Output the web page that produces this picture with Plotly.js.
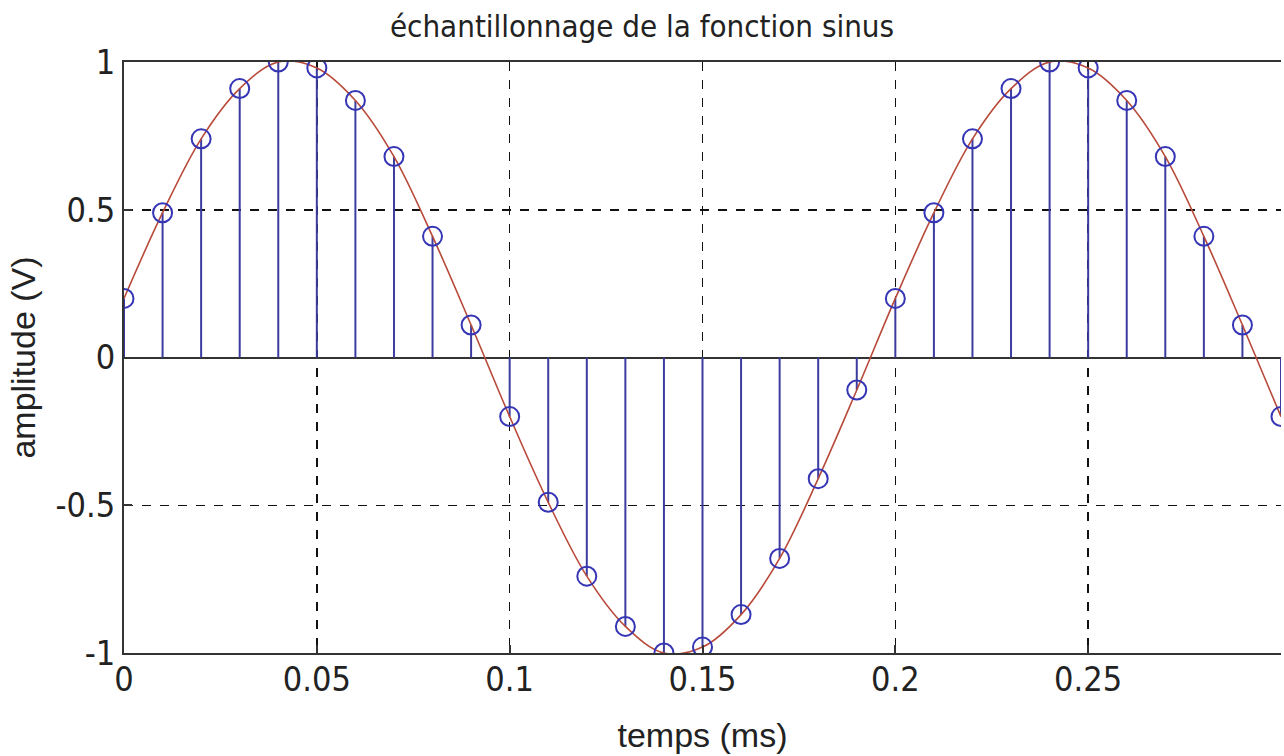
<!DOCTYPE html>
<html>
<head>
<meta charset="utf-8">
<script src="https://cdn.plot.ly/plotly-3.0.1.min.js"></script>
<style>html,body{margin:0;padding:0;background:#fff;}#chart{width:1284px;height:756px;}</style>
</head>
<body>
<div id="chart"></div>
<script>
const temps = [0, 0.01, 0.02, 0.03, 0.04, 0.05, 0.06, 0.07, 0.08, 0.09,
               0.10, 0.11, 0.12, 0.13, 0.14, 0.15, 0.16, 0.17, 0.18, 0.19,
               0.20, 0.21, 0.22, 0.23, 0.24, 0.25, 0.26, 0.27, 0.28, 0.29, 0.30];
const amplitude = [0.20, 0.49, 0.74, 0.91, 1.00, 0.98, 0.87, 0.68, 0.41, 0.11,
                   -0.20, -0.49, -0.74, -0.91, -1.00, -0.98, -0.87, -0.68, -0.41, -0.11,
                   0.20, 0.49, 0.74, 0.91, 1.00, 0.98, 0.87, 0.68, 0.41, 0.11, -0.20];
const xTicks = [0, 0.05, 0.1, 0.15, 0.2, 0.25, 0.3];
const xTickLabels = ['0', '0.05', '0.1', '0.15', '0.2', '0.25', ''];
const yTicks = [-1, -0.5, 0, 0.5, 1];
const yTickLabels = ['-1', '-0.5', '0', '0.5', '1'];

const stemX = [], stemY = [];
temps.forEach((t, i) => { stemX.push(t, t, null); stemY.push(0, amplitude[i], null); });

const font = {family: 'Liberation Sans, Arial, sans-serif', color: '#222'};
const narrow = {family: 'Liberation Sans Narrow, DejaVu Sans Condensed, Arial Narrow, sans-serif', color: '#222'};

const traces = [
  {x: stemX, y: stemY, type: 'scatter', mode: 'lines',
   line: {color: '#3c3ca0', width: 2}, hoverinfo: 'skip', showlegend: false},
  {x: temps, y: amplitude, type: 'scatter', mode: 'lines',
   line: {color: '#b84a3a', width: 1.6, shape: 'spline', smoothing: 1}, showlegend: false},
  {x: temps, y: amplitude, type: 'scatter', mode: 'markers',
   marker: {symbol: 'circle-open', size: 19, color: '#3535b5', line: {width: 2}}, showlegend: false}
];

const layout = {
  width: 1284, height: 756,
  margin: {l: 124, r: 3, t: 62, b: 103},
  paper_bgcolor: '#fff', plot_bgcolor: '#fff',
  title: {text: 'échantillonnage de la fonction sinus', x: 0.5, xanchor: 'center', y: 0.966, yanchor: 'middle',
          font: Object.assign({size: 31}, narrow)},
  xaxis: {
    range: [0, 0.3], tickvals: xTicks, ticktext: xTickLabels,
    showgrid: true, gridcolor: '#111', griddash: 'dash', gridwidth: 1.5,
    showline: true, linecolor: '#333', linewidth: 2, mirror: true,
    ticks: 'inside', ticklen: 8, tickcolor: '#333', tickwidth: 2,
    ticklabelstandoff: -5,
    zeroline: false, tickfont: Object.assign({size: 34}, narrow),
    title: {text: 'temps (ms)', font: Object.assign({size: 34}, font), standoff: 25}
  },
  yaxis: {
    range: [-1, 1], tickvals: yTicks, ticktext: yTickLabels,
    showgrid: true, gridcolor: '#111', griddash: 'dash', gridwidth: 1.5,
    showline: true, linecolor: '#333', linewidth: 2, mirror: false,
    ticks: 'inside', ticklen: 8, tickcolor: '#333', tickwidth: 2,
    zeroline: true, zerolinecolor: '#333', zerolinewidth: 2,
    tickfont: Object.assign({size: 34}, narrow),
    title: {text: 'amplitude (V)', font: Object.assign({size: 34}, font), standoff: 10}
  }
};

Plotly.newPlot('chart', traces, layout, {displayModeBar: false, staticPlot: true});
</script>
</body>
</html>
